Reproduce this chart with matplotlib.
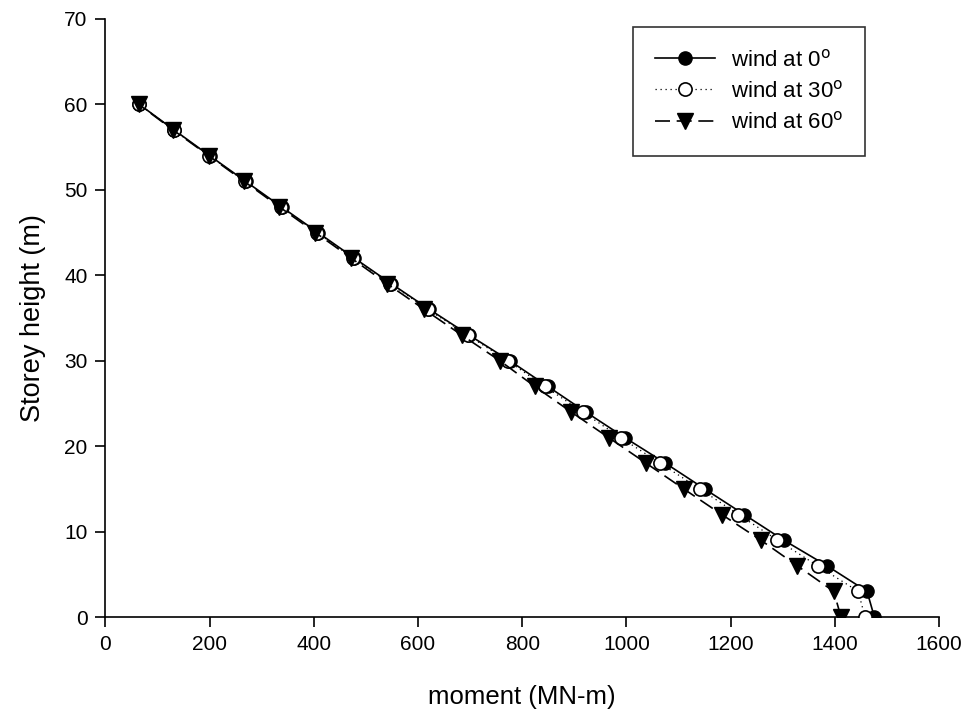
import matplotlib
matplotlib.use("Agg")
import matplotlib.pyplot as plt

plt.rcParams["font.family"] = ["Liberation Sans", "DejaVu Sans"]

# storey heights (m), bottom to top
heights = [0, 3, 6, 9, 12, 15, 18, 21, 24, 27, 30, 33, 36, 39, 42, 45, 48, 51, 54, 57, 60]

# overturning moment (MN-m) for each wind direction
moment_0 = [1476, 1462, 1385, 1302, 1226, 1150, 1075, 997, 922, 849, 776,
            698, 622, 549, 478, 408, 338, 269, 200, 132, 65]
moment_30 = [1458, 1445, 1367, 1290, 1215, 1141, 1065, 989, 916, 843, 772,
             695, 619, 547, 476, 406, 337, 268, 199, 131, 65]
moment_60 = [1412, 1398, 1328, 1258, 1183, 1110, 1038, 966, 894, 824, 757,
             684, 612, 541, 472, 403, 334, 266, 198, 130, 64]

labels = [r"wind at 0$^\mathrm{o}$", r"wind at 30$^\mathrm{o}$", r"wind at 60$^\mathrm{o}$"]

fig = plt.figure(figsize=(9.65, 7.22), dpi=100)
ax = fig.add_axes([0.1093, 0.1454, 0.8637, 0.8283])

ax.plot(moment_0, heights, color="black", lw=1.2, ls="-",
        marker="o", ms=9.5, mfc="black", mec="black", label=labels[0], zorder=2)
ax.plot(moment_30, heights, color="black", lw=0.9, ls=(0, (1, 3)),
        marker="o", ms=9.5, mfc="white", mec="black", mew=1.2, label=labels[1], zorder=3)
ax.plot(moment_60, heights, color="black", lw=1.2, ls=(0, (9, 4)),
        marker="v", ms=11, mfc="black", mec="black", label=labels[2], zorder=4)

ax.set_xlim(0, 1600)
ax.set_ylim(0, 70)
ax.set_xticks(range(0, 1601, 200))
ax.set_yticks(range(0, 71, 10))

for side in ("top", "right"):
    ax.spines[side].set_visible(False)
for side in ("left", "bottom"):
    ax.spines[side].set_linewidth(1.2)
ax.tick_params(direction="out", length=7, width=1.2, labelsize=15, pad=6)

ax.set_xlabel("moment (MN-m)", fontsize=18.5, labelpad=22)
ax.set_ylabel("Storey height (m)", fontsize=19.5, labelpad=13)

leg = ax.legend(loc="upper left", bbox_to_anchor=(0.656, 0.963),
                bbox_transform=fig.transFigure, borderaxespad=0,
                fancybox=False, shadow=False, fontsize=16, handlelength=2.7,
                borderpad=1.0, labelspacing=0.42, handletextpad=0.7)
leg.get_frame().set_edgecolor("black")
leg.get_frame().set_linewidth(1.2)

fig.savefig("out.png", dpi=100)
